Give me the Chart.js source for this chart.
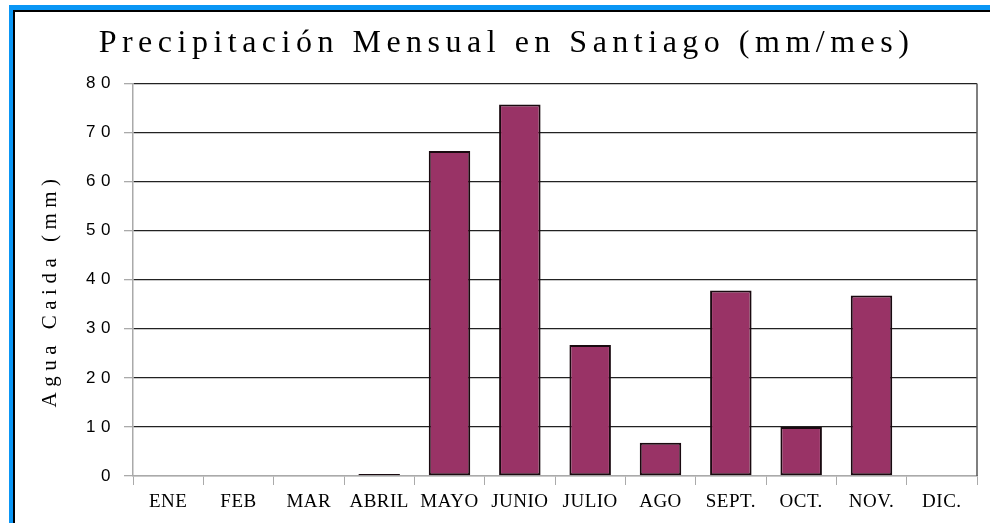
<!DOCTYPE html>
<html>
<head>
<meta charset="utf-8">
<script src="https://cdn.jsdelivr.net/npm/chart.js@4"></script>
<style>
  body { margin: 0; background: #fff; overflow: hidden; }
  #frame {
    position: absolute; left: 9px; top: 5px; width: 1100px; height: 600px;
    border-left: 4px solid #0a96f5; border-top: 5px solid #0a96f5;
  }
  #frame-in {
    position: absolute; left: 0; top: 0; width: 100%; height: 100%;
    border-left: 2px solid #000; border-top: 2px solid #000;
  }
  #wrap { position: absolute; left: 0; top: 0; width: 990px; height: 523px; }
</style>
</head>
<body>
<div id="frame"><div id="frame-in"></div></div>
<div id="wrap"><canvas id="rainChart"></canvas></div>
<script>
// data
const months = ["ENE", "FEB", "MAR", "ABRIL", "MAYO", "JUNIO", "JULIO", "AGO", "SEPT.", "OCT.", "NOV.", "DIC."];
const rain = [0, 0, 0, 0.4, 66.2, 75.7, 26.7, 6.8, 37.8, 10, 36.8, 0];
const yTicks = [0, 10, 20, 30, 40, 50, 60, 70, 80];

// wide letter spacing like the old excel picture
// title + y axis get wide spacing, x labels (z:1, drawn after bars) get tight
const spacingPlugin = {
  id: "spacing",
  beforeDraw(chart) {
    chart.ctx.letterSpacing = "5.5px";
  },
  afterDatasetsDraw(chart) {
    chart.ctx.letterSpacing = "0.5px";
  },
  afterDraw(chart) {
    const a = chart.chartArea;
    const c = chart.ctx;
    c.save();
    c.strokeStyle = "#555";
    c.lineWidth = 1.5;
    c.beginPath();
    c.moveTo(a.right, a.top);
    c.lineTo(a.right, a.bottom);
    c.stroke();
    c.restore();
    c.letterSpacing = "0px";
  },
};

const ctx = document.getElementById("rainChart");
const rainChart = new Chart(ctx, {
  type: "bar",
  data: {
    labels: months,
    datasets: [
      {
        data: rain,
        backgroundColor: "#993366",
        borderColor: "#1a0a10",
        borderWidth: 2,
        borderSkipped: false,
        categoryPercentage: 1,
        barPercentage: 0.59,
      },
    ],
  },
  options: {
    responsive: true,
    maintainAspectRatio: false,
    animation: false,
    layout: { padding: { left: 36, right: 13, top: 0, bottom: 0 } },
    plugins: {
      legend: { display: false },
      tooltip: { enabled: false },
      title: {
        display: true,
        text: "Precipitación Mensual en Santiago (mm/mes)",
        color: "#000",
        font: { family: "Liberation Serif", size: 32, weight: "normal" },
        padding: { top: 24, bottom: 21 },
      },
    },
    scales: {
      x: {
        grid: {
          drawOnChartArea: false,
          drawTicks: true,
          tickLength: 9,
          tickColor: "#aaa",
          offset: true,
        },
        border: { color: "#aaa", width: 1.5 },
        ticks: {
          z: 1,
          color: "#000",
          padding: 6,
          font: { family: "Liberation Serif", size: 19 },
          maxRotation: 0,
          autoSkip: false,
        },
        afterFit(scale) {
          scale.height = 47;
        },
      },
      y: {
        min: 0,
        max: 80,
        afterBuildTicks(scale) {
          scale.ticks = yTicks.map((v) => ({ value: v }));
        },
        grid: {
          color: (c) => (c.tick && c.tick.value === 0 ? "#aaa" : "#222"),
          lineWidth: 1.3,
          tickLength: 9,
          tickColor: "#aaa",
        },
        border: { color: "#aaa", width: 1.5 },
        ticks: {
          color: "#000",
          padding: 8,
          font: { family: "Liberation Sans", size: 17 },
        },
        title: {
          display: true,
          text: "Agua Caida (mm)\u00a0\u00a0",
          color: "#000",
          font: { family: "Liberation Serif", size: 21 },
          padding: { top: 2, bottom: 0 },
        },
        afterFit(scale) {
          scale.width = 97;
        },
      },
    },
  },
  plugins: [spacingPlugin],
});
</script>
</body>
</html>
